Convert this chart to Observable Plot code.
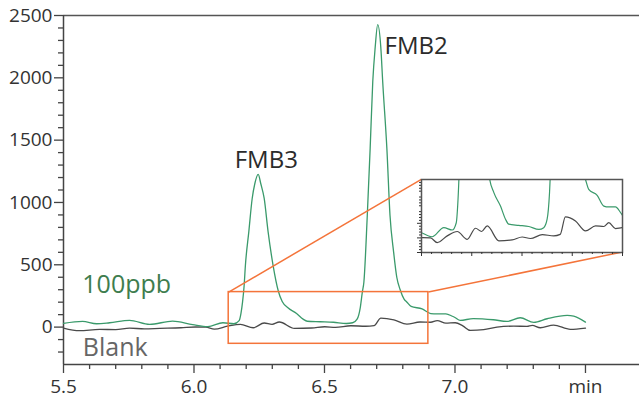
<!DOCTYPE html>
<html>
<head>
<meta charset="utf-8">
<script src="https://cdn.jsdelivr.net/npm/d3@7"></script>
<script src="https://cdn.jsdelivr.net/npm/@observablehq/plot@0.6"></script>
<style>
html, body { margin: 0; padding: 0; background: #fff; }
#chart { position: relative; width: 639px; height: 401px; overflow: hidden; }
#chart svg { position: absolute; left: 0; top: 0; }
</style>
</head>
<body>
<div id="chart"></div>
<script>
// ---- Data (retention time in min, detector response) ----
const sampleTime = [5.500, 5.573, 5.627, 5.677, 5.753, 5.830, 5.918, 5.995, 6.053, 6.111, 6.153, 6.173, 6.180, 6.186, 6.192, 6.197, 6.210, 6.223, 6.233, 6.246, 6.256, 6.269, 6.284, 6.303, 6.323, 6.338, 6.360, 6.393, 6.418, 6.434, 6.484, 6.534, 6.584, 6.608, 6.625, 6.637, 6.645, 6.651, 6.664, 6.675, 6.685, 6.694, 6.704, 6.716, 6.723, 6.739, 6.751, 6.765, 6.777, 6.790, 6.805, 6.816, 6.832, 6.874, 6.907, 6.932, 6.965, 6.990, 7.000, 7.020, 7.070, 7.147, 7.199, 7.250, 7.302, 7.353, 7.430, 7.455, 7.500];
const sampleValue = [30, 46, 27, 35, 54, 22, 48, 20, 4, 35, 27, 52, 110, 200, 330, 496, 764, 1032, 1150, 1225, 1150, 1032, 764, 496, 290, 205, 155, 109, 64, 47, 43, 39, 29, 35, 64, 155, 280, 362, 898, 1434, 1970, 2238, 2426, 2238, 1970, 1434, 898, 600, 400, 300, 225, 200, 166, 146, 109, 106, 106, 87, 77, 54, 68, 59, 46, 75, 38, 67, 94, 88, 40];

const blankTime = [5.500, 5.561, 5.638, 5.700, 5.753, 5.810, 5.869, 5.950, 6.006, 6.045, 6.078, 6.128, 6.178, 6.227, 6.269, 6.299, 6.327, 6.385, 6.451, 6.501, 6.542, 6.601, 6.658, 6.690, 6.716, 6.766, 6.816, 6.866, 6.907, 6.932, 6.965, 7.001, 7.030, 7.059, 7.110, 7.161, 7.225, 7.276, 7.296, 7.327, 7.378, 7.442, 7.500];
const blankValue = [-8, -29, -18, -20, -8, -14, -10, -5, 1, 0, -16, 7, 22, -5, 33, 22, 41, -10, -7, 3, -2, 11, 7, 12, 72, 58, 24, 41, 39, 52, 32, 35, 10, -27, -21, 0, 8, 6, 14, -5, 16, -18, -8];

// Axis ticks
const xMajorTicks = [5.5, 6.0, 6.5, 7.0, 7.5];
const xMinorTicks = [5.6, 5.7, 5.8, 5.9, 6.1, 6.2, 6.3, 6.4, 6.6, 6.7, 6.8, 6.9, 7.1, 7.2, 7.3, 7.4];
const yMajorTicks = [0, 500, 1000, 1500, 2000, 2500];
const yMinorTicks = [-200, -100, 100, 200, 300, 400, 600, 700, 800, 900, 1100, 1200, 1300, 1400, 1600, 1700, 1800, 1900, 2100, 2200, 2300, 2400];

// Annotations
const peakLabels = ["FMB3", "FMB2"];
const peakLabelTime = [6.156, 6.730];
const peakLabelValue = [1276, 2193];
const traceLabels = ["100ppb", "Blank"];
const traceLabelTime = [5.572, 5.574];
const traceLabelValue = [273, -228];

// Zoom region (data units) and inset placement (in main-chart data units)
const zoomTime = [6.133, 6.898];
const zoomValue = [-134, 281];
const insetPlaceTime = [6.871, 7.6415];
const insetPlaceValue = [603, 1185];
// Inset axes
const insetTimeDomain = [6.0, 7.0];
const insetValueDomain = [-50, 200];
const insetXMajor = [6.0, 6.25, 6.5, 6.75, 7.0];
const insetXMinor = d3.range(6.05, 7.0, 0.05).filter(v => Math.abs((v * 4) - Math.round(v * 4)) > 0.01);
const insetYMajor = [-50, 0, 50];
const insetYMinor = d3.range(-40, 200, 10).filter(v => v % 50 !== 0);

// ---- Build tables ----
const sample = sampleTime.map((t, i) => ({t, v: sampleValue[i]}));
const blank = blankTime.map((t, i) => ({t, v: blankValue[i]}));

const GREEN = "#3a9a6b";
const GREEN_TEXT = "#3e7d4e";
const GREY_LINE = "#4a4a4a";
const ORANGE = "#f4743a";
const AXIS = "#444";
const FONT = "'Open Sans', 'Noto Sans', sans-serif";

const main = Plot.plot({
  width: 639,
  height: 401,
  marginLeft: 63,
  marginRight: 0,
  marginTop: 15,
  marginBottom: 37,
  x: {domain: [5.5, 7.707], label: null},
  y: {domain: [-300, 2500], label: null},
  style: {fontFamily: FONT, background: "transparent", color: "#333", overflow: "visible"},
  marks: [
    Plot.ruleY([2500], {stroke: "#555", strokeWidth: 1.5}),
    Plot.ruleY([-300], {stroke: AXIS, strokeWidth: 1.5}),
    Plot.ruleX([5.5], {stroke: AXIS, strokeWidth: 1.5}),
    Plot.axisY({ticks: yMajorTicks, tickSize: 9, tickPadding: 2, fontSize: 19, stroke: AXIS, strokeWidth: 1.3, fill: "#333", label: null,
      tickFormat: d => String(d)}),
    Plot.axisY({ticks: yMinorTicks, tickSize: 5, stroke: AXIS, strokeWidth: 1.3, fill: "none", label: null}),
    Plot.axisX({ticks: xMajorTicks, tickSize: 9, tickPadding: 6, fontSize: 19, stroke: AXIS, strokeWidth: 1.3, fill: "#333", label: null,
      tickFormat: d => d === 7.5 ? "min" : d3.format(".1f")(d)}),
    Plot.axisX({ticks: xMinorTicks, tickSize: 5, stroke: AXIS, strokeWidth: 1.3, fill: "none", label: null}),
    Plot.line(blank, {x: "t", y: "v", stroke: GREY_LINE, strokeWidth: 1.3, curve: "monotone-x"}),
    Plot.line(sample, {x: "t", y: "v", stroke: GREEN, strokeWidth: 1.3, curve: "monotone-x"}),
    Plot.rect([0], {x1: () => zoomTime[0], x2: () => zoomTime[1], y1: () => zoomValue[0], y2: () => zoomValue[1],
      fill: "none", stroke: ORANGE, strokeWidth: 1.5}),
    Plot.link([0, 1], {
      x1: i => zoomTime[i], y1: () => zoomValue[1],
      x2: i => insetPlaceTime[i], y2: i => i === 0 ? insetPlaceValue[1] : insetPlaceValue[0],
      stroke: ORANGE, strokeWidth: 1.5
    }),
    Plot.text(peakLabels, {x: (d, i) => peakLabelTime[i], y: (d, i) => peakLabelValue[i], text: d => d,
      textAnchor: "start", lineAnchor: "bottom", fontSize: 24, fill: "#2b2b2b"}),
    Plot.text(traceLabels, {x: (d, i) => traceLabelTime[i], y: (d, i) => traceLabelValue[i], text: d => d,
      textAnchor: "start", lineAnchor: "bottom", fontSize: 25, fill: (d, i) => i === 0 ? GREEN_TEXT : "#666"})
  ]
});

const chart = document.getElementById("chart");
chart.appendChild(main);

// ---- Inset ----
const xs = main.scale("x"), ys = main.scale("y");
const ix0 = xs.apply(insetPlaceTime[0]), ix1 = xs.apply(insetPlaceTime[1]);
const iy0 = ys.apply(insetPlaceValue[1]), iy1 = ys.apply(insetPlaceValue[0]);
const mL = 6, mR = 2, mT = 2, mB = 6;

const inset = Plot.plot({
  width: Math.round(ix1 - ix0) + mL + mR,
  height: Math.round(iy1 - iy0) + mT + mB,
  marginLeft: mL, marginRight: mR, marginTop: mT, marginBottom: mB,
  x: {domain: insetTimeDomain, label: null},
  y: {domain: insetValueDomain, label: null},
  style: {fontFamily: FONT, background: "transparent", overflow: "visible"},
  marks: [
    Plot.frame({fill: "white", stroke: "none"}),
    Plot.line(blank, {x: "t", y: "v", stroke: GREY_LINE, strokeWidth: 1.2, curve: "monotone-x", clip: true}),
    Plot.line(sample, {x: "t", y: "v", stroke: GREEN, strokeWidth: 1.2, curve: "monotone-x", clip: true}),
    Plot.frame({stroke: "#555", strokeWidth: 1.5}),
    Plot.axisX({ticks: insetXMajor, tickSize: 4, stroke: "#333", fill: "none", label: null}),
    Plot.axisX({ticks: insetXMinor, tickSize: 2, stroke: "#333", fill: "none", label: null}),
    Plot.axisY({ticks: insetYMajor, tickSize: 4, stroke: "#333", fill: "none", label: null}),
    Plot.axisY({ticks: insetYMinor, tickSize: 2, stroke: "#333", fill: "none", label: null})
  ]
});
inset.style.left = (ix0 - mL) + "px";
inset.style.top = (iy0 - mT) + "px";
chart.appendChild(inset);
</script>
</body>
</html>
